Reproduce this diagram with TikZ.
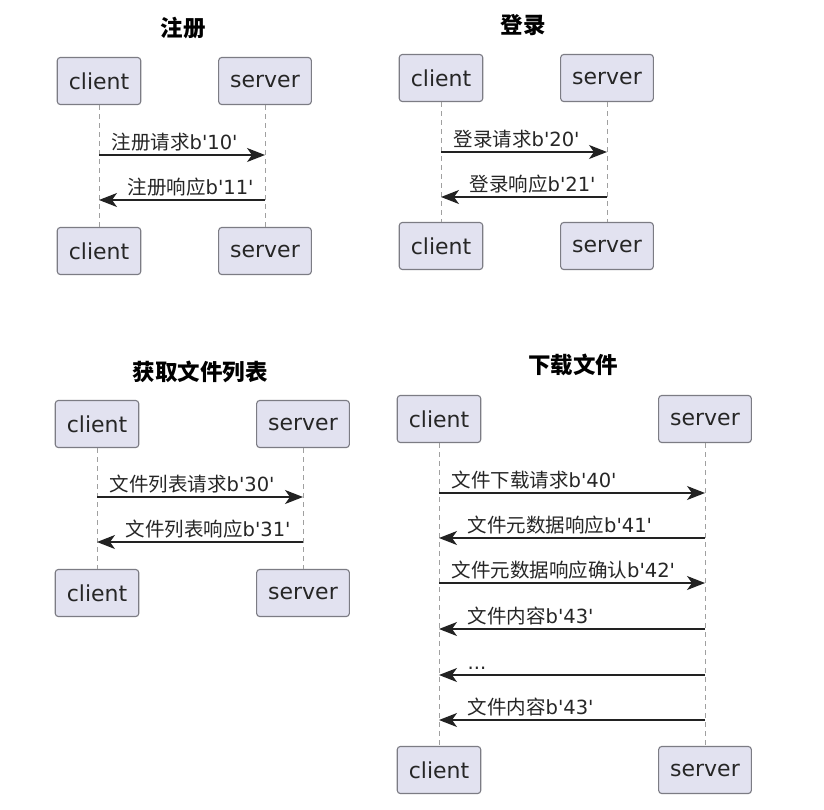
\documentclass[tikz,border=0pt]{standalone}
\usepackage{fontspec}
\setmainfont{DejaVu Sans}
\newfontfamily\cjk{Noto Sans CJK SC}
\usepackage{tikz}
\usetikzlibrary{arrows.meta}
\definecolor{partfill}{HTML}{E2E2F0}
\definecolor{partline}{HTML}{7C7C84}
\definecolor{lifecol}{HTML}{A0A0A0}
\definecolor{msgcol}{HTML}{222222}
\newcommand{\msgtxt}[2]{{\cjk #1}b\textquotesingle#2\textquotesingle}
\tikzset{
	part/.style={draw=partline,fill=partfill,rounded corners=3pt,line width=1.1pt,minimum height=47pt,inner xsep=11.5pt,font=\fontsize{22}{26}\selectfont,text=black!85},
	dtitle/.style={font=\cjk\bfseries\fontsize{22.5}{26}\selectfont},
	life/.style={draw=lifecol,dash pattern=on 5pt off 4pt,line width=1pt},
	msg/.style={draw=msgcol,line width=1.3pt,-{Stealth[length=18pt,width=14pt,inset=5pt]}},
	tolbl/.style={pos=0,anchor=base west,xshift=12pt,yshift=6pt,inner sep=0pt,font=\fontsize{19.5}{24}\selectfont,text=black!85},
	backlbl/.style={tolbl,pos=1,xshift=16pt}
}
\begin{document}
\begin{tikzpicture}[x=1pt,y=-1pt]
	\useasboundingbox[fill=white] (0,0) rectangle (824,809);
		\node[dtitle] (t1) at (183,28) {注册};
		\node[part] (c1a) at (99,81) {client};
		\node[part] (s1a) at (265,81) {server};
		\node[part] (c1b) at (99,251) {client};
		\node[part] (s1b) at (265,251) {server};
			\draw[life] (c1a) -- (c1b);
			\draw[life] (s1a) -- (s1b);
			\draw[msg] (c1a |- 0,155) -- node[tolbl] {\msgtxt{注册请求}{10}} (s1a |- 0,155);
			\draw[msg] (s1a |- 0,200) -- node[backlbl] {\msgtxt{注册响应}{11}} (c1a |- 0,200);
		\node[dtitle] (t2) at (523,25) {登录};
		\node[part] (c2a) at (441,78) {client};
		\node[part] (s2a) at (607,78) {server};
		\node[part] (c2b) at (441,246) {client};
		\node[part] (s2b) at (607,246) {server};
			\draw[life] (c2a) -- (c2b);
			\draw[life] (s2a) -- (s2b);
			\draw[msg] (c2a |- 0,152) -- node[tolbl] {\msgtxt{登录请求}{20}} (s2a |- 0,152);
			\draw[msg] (s2a |- 0,197) -- node[backlbl] {\msgtxt{登录响应}{21}} (c2a |- 0,197);
		\node[dtitle] (t3) at (200,372) {获取文件列表};
		\node[part] (c3a) at (97,424) {client};
		\node[part] (s3a) at (303,424) {server};
		\node[part] (c3b) at (97,593) {client};
		\node[part] (s3b) at (303,593) {server};
			\draw[life] (c3a) -- (c3b);
			\draw[life] (s3a) -- (s3b);
			\draw[msg] (c3a |- 0,497) -- node[tolbl] {\msgtxt{文件列表请求}{30}} (s3a |- 0,497);
			\draw[msg] (s3a |- 0,542) -- node[backlbl] {\msgtxt{文件列表响应}{31}} (c3a |- 0,542);
		\node[dtitle] (t4) at (573,365) {下载文件};
		\node[part] (c4a) at (439,419) {client};
		\node[part] (s4a) at (705,419) {server};
		\node[part] (c4b) at (439,770) {client};
		\node[part] (s4b) at (705,770) {server};
			\draw[life] (c4a) -- (c4b);
			\draw[life] (s4a) -- (s4b);
			\draw[msg] (c4a |- 0,493) -- node[tolbl] {\msgtxt{文件下载请求}{40}} (s4a |- 0,493);
			\draw[msg] (s4a |- 0,538) -- node[backlbl] {\msgtxt{文件元数据响应}{41}} (c4a |- 0,538);
			\draw[msg] (c4a |- 0,583) -- node[tolbl] {\msgtxt{文件元数据响应确认}{42}} (s4a |- 0,583);
			\draw[msg] (s4a |- 0,629) -- node[backlbl] {\msgtxt{文件内容}{43}} (c4a |- 0,629);
			\draw[msg] (s4a |- 0,675) -- node[backlbl] {...} (c4a |- 0,675);
			\draw[msg] (s4a |- 0,720) -- node[backlbl] {\msgtxt{文件内容}{43}} (c4a |- 0,720);
\end{tikzpicture}
\end{document}
